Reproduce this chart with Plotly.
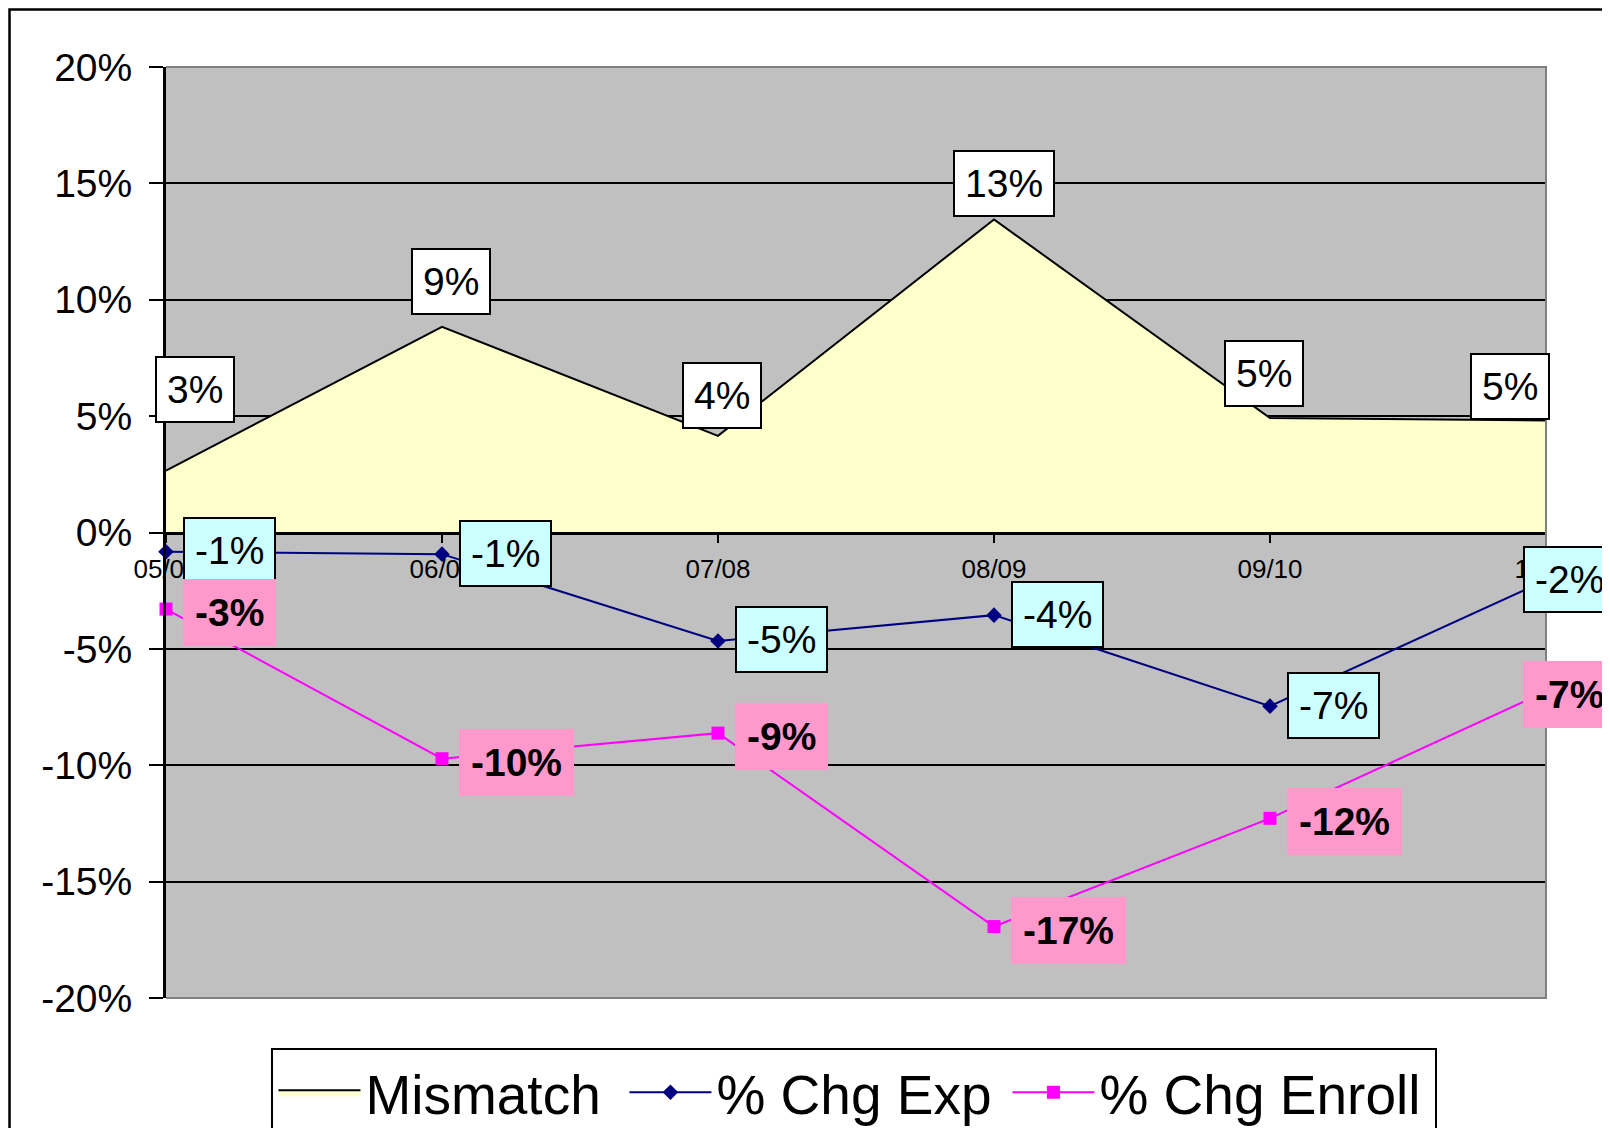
import plotly.graph_objects as go

FONT = "Liberation Sans, Arial, sans-serif"

categories = ["05/06", "06/07", "07/08", "08/09", "09/10", "10/11"]
mismatch = [0.0266, 0.0884, 0.0415, 0.1345, 0.0492, 0.0481]
chg_exp = [-0.0083, -0.0093, -0.0466, -0.0355, -0.0746, -0.0205]
chg_enroll = [-0.0329, -0.0972, -0.0862, -0.1693, -0.1228, -0.0683]

y_tick_vals = [-0.20, -0.15, -0.10, -0.05, 0.0, 0.05, 0.10, 0.15, 0.20]
y_tick_text = ["-20%", "-15%", "-10%", "-5%", "0%", "5%", "10%", "15%", "20%"]

# label placement offsets in pixels (style only)
mismatch_label_shift = [(29, 81), (9, 45), (4, 40), (10, 36), (-6, 44), (-36, 34)]
side_label_xshift = [17, 17, 17, 17, 17, -23]


def pct(v):
    return f"{v * 100:.0f}%"


fig = go.Figure()
fig.add_trace(go.Scatter(
    x=categories, y=mismatch, name="Mismatch", mode="lines",
    line=dict(color="black", width=2), fill="tozeroy", fillcolor="#FFFFCC",
    cliponaxis=False, legendwidth=254,
))
fig.add_trace(go.Scatter(
    x=categories, y=chg_exp, name="% Chg Exp", mode="lines+markers",
    line=dict(color="#000080", width=2),
    marker=dict(symbol="diamond", size=12, color="#000080"),
    cliponaxis=False, legendwidth=286,
))
fig.add_trace(go.Scatter(
    x=categories, y=chg_enroll, name="% Chg Enroll", mode="lines+markers",
    line=dict(color="#FF00FF", width=2),
    marker=dict(symbol="square", size=13, color="#FF00FF"),
    cliponaxis=False, legendwidth=331,
))

for i, (c, v) in enumerate(zip(categories, mismatch)):
    dx, dy = mismatch_label_shift[i]
    fig.add_annotation(
        x=c, y=v, text=pct(v), showarrow=False, xanchor="center", yanchor="middle",
        xshift=dx, yshift=dy, bgcolor="white", bordercolor="black", borderwidth=2,
        borderpad=10, font=dict(family=FONT, size=39, color="black"),
    )

for i, (c, v) in enumerate(zip(categories, chg_exp)):
    fig.add_annotation(
        x=c, y=v, text=pct(v), showarrow=False, xanchor="left", yanchor="middle",
        xshift=side_label_xshift[i], yshift=1, bgcolor="#CCFFFF", bordercolor="black",
        borderwidth=2, borderpad=10, font=dict(family=FONT, size=39, color="black"),
    )

for i, (c, v) in enumerate(zip(categories, chg_enroll)):
    fig.add_annotation(
        x=c, y=v, text="<b>" + pct(v) + "</b>", showarrow=False, xanchor="left",
        yanchor="middle", xshift=side_label_xshift[i], yshift=-3.5, bgcolor="#FF99CC",
        borderwidth=0, borderpad=12, font=dict(family=FONT, size=39, color="black"),
    )

# plot-area border (top, right, bottom) in gray
fig.add_shape(type="path", xref="paper", yref="paper", path="M0,1 H1 V0 H0",
              line=dict(color="#808080", width=2), layer="above")
# outer chart frame
fig.add_shape(type="rect", xref="paper", yref="paper", x0=-0.1134, x1=1.6,
              y0=-0.6, y1=1.0618, line=dict(color="black", width=2.5),
              fillcolor="rgba(0,0,0,0)", layer="above")

fig.update_layout(
    width=1610, height=1128,
    margin=dict(l=158, r=72, t=59, b=138, autoexpand=False),
    paper_bgcolor="white", plot_bgcolor="#C0C0C0",
    font=dict(family=FONT, color="black"),
    showlegend=True,
    legend=dict(
        orientation="h", x=0.0764, xanchor="left", y=-0.0537, yanchor="top",
        font=dict(family=FONT, size=55, color="black"), bgcolor="white",
        bordercolor="black", borderwidth=2, itemwidth=82, traceorder="normal",
    ),
    xaxis=dict(
        type="category", range=[0, 5], anchor="free", position=0.5,
        showline=True, linecolor="black", linewidth=3,
        ticks="outside", ticklen=8, tickwidth=2, tickcolor="black",
        tickfont=dict(family=FONT, size=26, color="black"),
        ticklabelstandoff=4,
        showgrid=False, zeroline=False,
    ),
    yaxis=dict(
        range=[-0.2, 0.2], tickvals=y_tick_vals, ticktext=y_tick_text,
        showgrid=True, gridcolor="black", gridwidth=2,
        zeroline=True, zerolinecolor="black", zerolinewidth=3,
        showline=True, linecolor="black", linewidth=3,
        ticks="outside", ticklen=14, tickwidth=2, tickcolor="black",
        tickfont=dict(family=FONT, size=39, color="black"),
        ticklabelstandoff=9,
    ),
)

fig.write_html("out.html")
